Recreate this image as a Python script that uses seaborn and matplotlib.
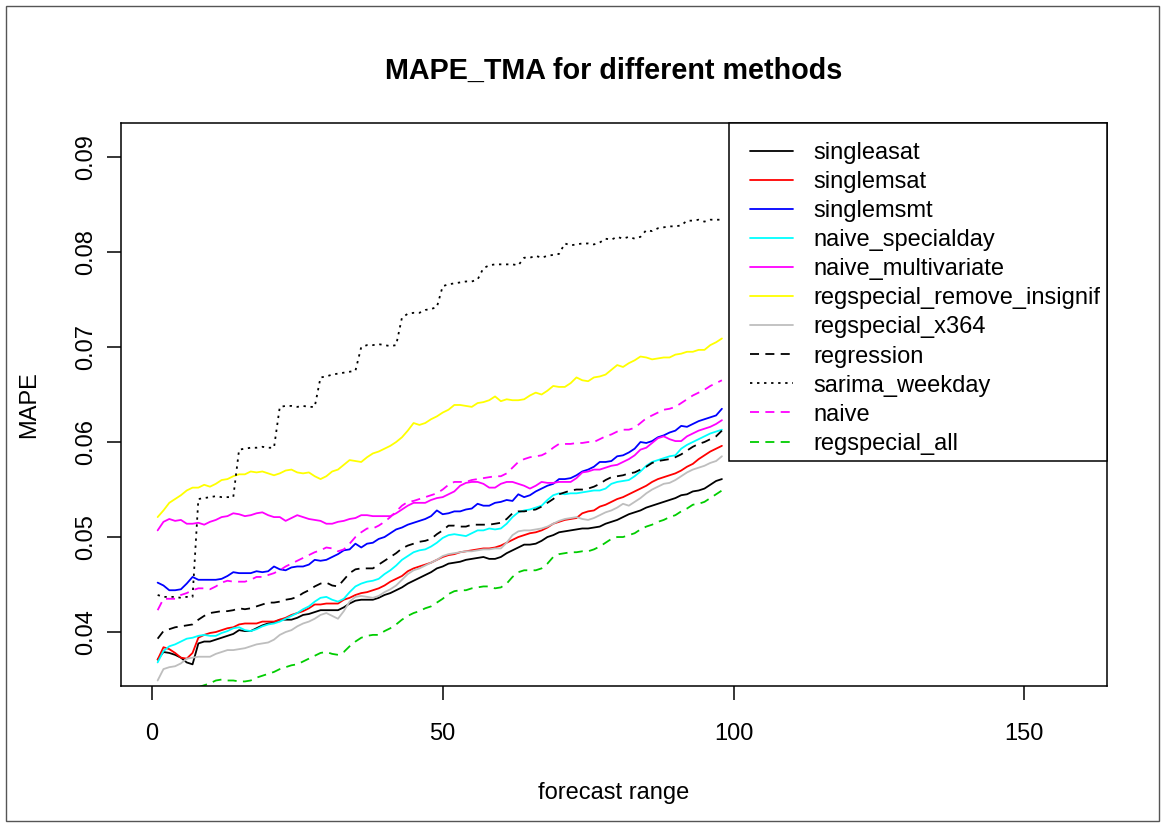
import numpy as np
import pandas as pd
import matplotlib
matplotlib.use("Agg")
import matplotlib.pyplot as plt
from matplotlib.patches import Rectangle
import seaborn as sns

sns.set_style("white")
plt.rcParams["font.family"] = ["Liberation Sans", "DejaVu Sans"]
plt.rcParams["font.size"] = 17
for key in ["text.color", "axes.labelcolor", "xtick.color", "ytick.color"]:
    plt.rcParams[key] = "black"

# forecast horizon (days ahead)
forecast_range = list(range(1, 99))

singleasat = [
    0.0371, 0.0379, 0.0378, 0.0376, 0.0373, 0.0368, 0.0366, 0.0388, 0.0390, 0.0390,
    0.0392, 0.0394, 0.0396, 0.0398, 0.0402, 0.0401, 0.0401, 0.0404, 0.0407, 0.0409,
    0.0410, 0.0413, 0.0413, 0.0413, 0.0415, 0.0418, 0.0419,
    0.0421, 0.0423, 0.0423, 0.0423, 0.0423, 0.0426, 0.0430, 0.0433, 0.0434, 0.0434,
    0.0434, 0.0436, 0.0439, 0.0441, 0.0444, 0.0447, 0.0451, 0.0454, 0.0457, 0.0460,
    0.0463, 0.0467, 0.0469, 0.0472, 0.0473, 0.0474, 0.0476,
    0.0477, 0.0478, 0.0479, 0.0477, 0.0477, 0.0479, 0.0483, 0.0486, 0.0489, 0.0492,
    0.0492, 0.0493, 0.0496, 0.0500, 0.0502, 0.0505, 0.0506, 0.0507, 0.0508, 0.0509,
    0.0509, 0.0510, 0.0511, 0.0514,
    0.0516, 0.0518, 0.0521, 0.0524, 0.0526, 0.0528, 0.0531, 0.0533, 0.0535, 0.0537,
    0.0539, 0.0541, 0.0544, 0.0545, 0.0548, 0.0549, 0.0551, 0.0555, 0.0559, 0.0561,
]

singlemsat = [
    0.0371, 0.0384, 0.0382, 0.0378, 0.0373, 0.0372, 0.0378, 0.0394, 0.0397, 0.0399,
    0.0400, 0.0402, 0.0404, 0.0405, 0.0408, 0.0409, 0.0409, 0.0409, 0.0411, 0.0411,
    0.0411, 0.0413, 0.0415, 0.0418, 0.0420, 0.0422, 0.0425,
    0.0429, 0.0429, 0.0430, 0.0430, 0.0430, 0.0434, 0.0436, 0.0439, 0.0441, 0.0442,
    0.0444, 0.0446, 0.0449, 0.0453, 0.0456, 0.0459, 0.0464, 0.0467, 0.0469, 0.0471,
    0.0473, 0.0476, 0.0479, 0.0481, 0.0482, 0.0484, 0.0485,
    0.0486, 0.0487, 0.0488, 0.0488, 0.0489, 0.0491, 0.0494, 0.0497, 0.0500, 0.0502,
    0.0504, 0.0505, 0.0507, 0.0510, 0.0514, 0.0516, 0.0518, 0.0519, 0.0520, 0.0525,
    0.0527, 0.0528, 0.0532, 0.0534,
    0.0537, 0.0540, 0.0542, 0.0545, 0.0548, 0.0551, 0.0554, 0.0558, 0.0561, 0.0563,
    0.0565, 0.0567, 0.0570, 0.0574, 0.0577, 0.0582, 0.0586, 0.0590, 0.0593, 0.0596,
]

singlemsmt = [
    0.0452, 0.0449, 0.0444, 0.0444, 0.0445, 0.0451, 0.0458, 0.0455, 0.0455, 0.0455,
    0.0455, 0.0456, 0.0459, 0.0463, 0.0462, 0.0462, 0.0462, 0.0464, 0.0463, 0.0464,
    0.0469, 0.0466, 0.0465, 0.0468, 0.0469, 0.0469, 0.0471,
    0.0476, 0.0475, 0.0476, 0.0479, 0.0482, 0.0486, 0.0487, 0.0493, 0.0489, 0.0493,
    0.0494, 0.0498, 0.0500, 0.0504, 0.0508, 0.0510, 0.0513, 0.0515, 0.0517, 0.0519,
    0.0522, 0.0528, 0.0524, 0.0525, 0.0527, 0.0527, 0.0529,
    0.0530, 0.0535, 0.0533, 0.0533, 0.0536, 0.0537, 0.0539, 0.0538, 0.0545, 0.0542,
    0.0544, 0.0548, 0.0551, 0.0554, 0.0556, 0.0561, 0.0561, 0.0562, 0.0565, 0.0569,
    0.0571, 0.0574, 0.0579, 0.0579,
    0.0580, 0.0585, 0.0586, 0.0589, 0.0593, 0.0600, 0.0599, 0.0601, 0.0605, 0.0607,
    0.0610, 0.0612, 0.0617, 0.0616, 0.0619, 0.0622, 0.0624, 0.0626, 0.0628, 0.0635,
]

naive_specialday = [
    0.0368, 0.0380, 0.0385, 0.0387, 0.0390, 0.0393, 0.0394, 0.0396, 0.0397, 0.0396,
    0.0396, 0.0399, 0.0401, 0.0404, 0.0405, 0.0402, 0.0401, 0.0403, 0.0406, 0.0408,
    0.0409, 0.0411, 0.0414, 0.0417, 0.0420, 0.0424, 0.0427,
    0.0432, 0.0436, 0.0437, 0.0434, 0.0432, 0.0435, 0.0442, 0.0448, 0.0451, 0.0453,
    0.0454, 0.0456, 0.0461, 0.0465, 0.0470, 0.0476, 0.0480, 0.0484, 0.0486, 0.0487,
    0.0490, 0.0494, 0.0499, 0.0502, 0.0503, 0.0502, 0.0501,
    0.0504, 0.0507, 0.0507, 0.0509, 0.0508, 0.0509, 0.0514, 0.0521, 0.0526, 0.0528,
    0.0529, 0.0531, 0.0533, 0.0539, 0.0544, 0.0546, 0.0545, 0.0546, 0.0546, 0.0547,
    0.0548, 0.0549, 0.0549, 0.0551,
    0.0556, 0.0558, 0.0559, 0.0560, 0.0564, 0.0569, 0.0575, 0.0579, 0.0581, 0.0583,
    0.0585, 0.0586, 0.0593, 0.0597, 0.0600, 0.0603, 0.0606, 0.0609, 0.0611, 0.0613,
]

naive_multivariate = [
    0.0507, 0.0516, 0.0519, 0.0517, 0.0518, 0.0514, 0.0514, 0.0515, 0.0513, 0.0516,
    0.0518, 0.0521, 0.0522, 0.0525, 0.0524, 0.0522, 0.0523, 0.0525, 0.0526, 0.0523,
    0.0521, 0.0521, 0.0517, 0.0520, 0.0523, 0.0521, 0.0519,
    0.0518, 0.0517, 0.0514, 0.0514, 0.0516, 0.0517, 0.0519, 0.0520, 0.0523, 0.0523,
    0.0522, 0.0522, 0.0522, 0.0522, 0.0525, 0.0529, 0.0533, 0.0536, 0.0536, 0.0536,
    0.0539, 0.0541, 0.0542, 0.0545, 0.0548, 0.0554, 0.0557,
    0.0558, 0.0558, 0.0556, 0.0552, 0.0552, 0.0556, 0.0558, 0.0558, 0.0556, 0.0554,
    0.0551, 0.0554, 0.0558, 0.0557, 0.0557, 0.0558, 0.0558, 0.0558, 0.0562, 0.0568,
    0.0569, 0.0571, 0.0571, 0.0573,
    0.0575, 0.0576, 0.0579, 0.0582, 0.0586, 0.0592, 0.0594, 0.0599, 0.0604, 0.0606,
    0.0603, 0.0601, 0.0601, 0.0606, 0.0609, 0.0612, 0.0614, 0.0616, 0.0619, 0.0623,
]

regspecial_remove_insignif = [
    0.0521, 0.0528, 0.0536, 0.0540, 0.0544, 0.0549, 0.0552, 0.0552, 0.0555, 0.0553,
    0.0556, 0.0560, 0.0561, 0.0564, 0.0566, 0.0566, 0.0569, 0.0568, 0.0569, 0.0567,
    0.0565, 0.0567, 0.0570, 0.0571, 0.0568, 0.0567, 0.0568,
    0.0564, 0.0561, 0.0564, 0.0569, 0.0571, 0.0576, 0.0581, 0.0580, 0.0579, 0.0584,
    0.0588, 0.0590, 0.0593, 0.0596, 0.0600, 0.0605, 0.0612, 0.0620, 0.0618, 0.0620,
    0.0624, 0.0627, 0.0631, 0.0634, 0.0639, 0.0639, 0.0638,
    0.0637, 0.0641, 0.0642, 0.0644, 0.0648, 0.0643, 0.0645, 0.0644, 0.0644, 0.0645,
    0.0649, 0.0652, 0.0650, 0.0654, 0.0659, 0.0658, 0.0658, 0.0662, 0.0668, 0.0665,
    0.0664, 0.0668, 0.0669, 0.0671,
    0.0676, 0.0681, 0.0679, 0.0683, 0.0686, 0.0690, 0.0689, 0.0687, 0.0688, 0.0689,
    0.0689, 0.0692, 0.0693, 0.0695, 0.0695, 0.0697, 0.0697, 0.0702, 0.0705, 0.0709,
]

regspecial_x364 = [
    0.0349, 0.0361, 0.0363, 0.0364, 0.0367, 0.0372, 0.0373, 0.0374, 0.0374, 0.0374,
    0.0377, 0.0379, 0.0381, 0.0381, 0.0382, 0.0383, 0.0385, 0.0387, 0.0388, 0.0389,
    0.0392, 0.0397, 0.0400, 0.0402, 0.0406, 0.0409, 0.0411,
    0.0414, 0.0418, 0.0420, 0.0417, 0.0414, 0.0422, 0.0432, 0.0437, 0.0438, 0.0437,
    0.0436, 0.0438, 0.0442, 0.0445, 0.0449, 0.0455, 0.0461, 0.0465, 0.0467, 0.0470,
    0.0473, 0.0476, 0.0480, 0.0482, 0.0483, 0.0484, 0.0485,
    0.0485, 0.0486, 0.0487, 0.0487, 0.0488, 0.0488, 0.0494, 0.0502, 0.0506, 0.0507,
    0.0507, 0.0508, 0.0509, 0.0511, 0.0514, 0.0517, 0.0519, 0.0520, 0.0521, 0.0519,
    0.0518, 0.0520, 0.0523, 0.0526,
    0.0528, 0.0531, 0.0535, 0.0533, 0.0537, 0.0541, 0.0546, 0.0550, 0.0553, 0.0556,
    0.0557, 0.0560, 0.0564, 0.0568, 0.0571, 0.0573, 0.0575, 0.0578, 0.0580, 0.0585,
]

regression = [
    0.0393, 0.0401, 0.0403, 0.0405, 0.0406, 0.0407, 0.0408, 0.0413, 0.0417, 0.0420,
    0.0421, 0.0422, 0.0422, 0.0423, 0.0425, 0.0424, 0.0425, 0.0427, 0.0429, 0.0431,
    0.0431, 0.0432, 0.0434, 0.0435, 0.0437, 0.0441, 0.0444,
    0.0448, 0.0451, 0.0452, 0.0449, 0.0448, 0.0455, 0.0462, 0.0466, 0.0467, 0.0467,
    0.0467, 0.0471, 0.0475, 0.0479, 0.0483, 0.0488, 0.0491, 0.0493, 0.0495, 0.0496,
    0.0498, 0.0503, 0.0507, 0.0512, 0.0512, 0.0511, 0.0511,
    0.0513, 0.0513, 0.0513, 0.0513, 0.0514, 0.0515, 0.0519, 0.0525, 0.0527, 0.0527,
    0.0528, 0.0529, 0.0532, 0.0536, 0.0540, 0.0545, 0.0547, 0.0549, 0.0550, 0.0550,
    0.0551, 0.0553, 0.0556, 0.0560,
    0.0563, 0.0564, 0.0565, 0.0567, 0.0568, 0.0571, 0.0574, 0.0578, 0.0580, 0.0581,
    0.0582, 0.0584, 0.0587, 0.0591, 0.0595, 0.0598, 0.0600, 0.0603, 0.0606, 0.0612,
]

sarima_weekday = [
    0.0439, 0.0437, 0.0437, 0.0437, 0.0436, 0.0437, 0.0437,
    0.0540, 0.0541, 0.0542, 0.0543, 0.0542, 0.0542, 0.0542,
    0.0592, 0.0593, 0.0594, 0.0594, 0.0595, 0.0594, 0.0594,
    0.0637, 0.0638, 0.0638, 0.0637, 0.0638, 0.0637, 0.0637,
    0.0668, 0.0669, 0.0671, 0.0672, 0.0673, 0.0674, 0.0675,
    0.0700, 0.0702, 0.0702, 0.0703, 0.0702, 0.0701, 0.0702,
    0.0731, 0.0735, 0.0736, 0.0736, 0.0739, 0.0740, 0.0742,
    0.0764, 0.0766, 0.0767, 0.0768, 0.0769, 0.0769, 0.0771,
    0.0783, 0.0786, 0.0787, 0.0787, 0.0787, 0.0787, 0.0786,
    0.0794, 0.0794, 0.0796, 0.0794, 0.0796, 0.0797, 0.0798,
    0.0809, 0.0807, 0.0808, 0.0809, 0.0809, 0.0808, 0.0810,
    0.0814, 0.0813, 0.0816, 0.0814, 0.0816, 0.0814, 0.0816,
    0.0823, 0.0822, 0.0825, 0.0826, 0.0827, 0.0827, 0.0828,
    0.0833, 0.0833, 0.0834, 0.0832, 0.0834, 0.0834, 0.0834,
]

naive = [
    0.0423, 0.0435, 0.0435, 0.0435, 0.0439, 0.0441, 0.0444, 0.0446, 0.0446, 0.0445,
    0.0448, 0.0452, 0.0454, 0.0453, 0.0453, 0.0453, 0.0455, 0.0458, 0.0458, 0.0460,
    0.0462, 0.0465, 0.0469, 0.0472, 0.0475, 0.0478, 0.0481,
    0.0484, 0.0486, 0.0489, 0.0488, 0.0485, 0.0487, 0.0493, 0.0500, 0.0505, 0.0509,
    0.0509, 0.0512, 0.0516, 0.0521, 0.0527, 0.0533, 0.0537, 0.0538, 0.0540, 0.0542,
    0.0544, 0.0546, 0.0550, 0.0555, 0.0558, 0.0558, 0.0558,
    0.0560, 0.0561, 0.0562, 0.0563, 0.0564, 0.0564, 0.0567, 0.0573, 0.0579, 0.0582,
    0.0584, 0.0585, 0.0586, 0.0589, 0.0594, 0.0598, 0.0598, 0.0598, 0.0599, 0.0599,
    0.0600, 0.0600, 0.0603, 0.0606,
    0.0608, 0.0611, 0.0613, 0.0613, 0.0615, 0.0620, 0.0625, 0.0628, 0.0631, 0.0634,
    0.0635, 0.0637, 0.0641, 0.0645, 0.0649, 0.0652, 0.0655, 0.0659, 0.0662, 0.0665,
]

# the first week of regspecial_all lies below the plotted range
regspecial_all = [np.nan] * 7 + [
    0.0342, 0.0344, 0.0346,
    0.0349, 0.0350, 0.0349, 0.0349, 0.0348, 0.0348, 0.0349, 0.0352, 0.0354, 0.0356,
    0.0358, 0.0361, 0.0363, 0.0365, 0.0366, 0.0369, 0.0372,
    0.0375, 0.0378, 0.0379, 0.0377, 0.0376, 0.0379, 0.0385, 0.0390, 0.0394, 0.0396,
    0.0397, 0.0397, 0.0401, 0.0404, 0.0408, 0.0413, 0.0417, 0.0420, 0.0422, 0.0425,
    0.0427, 0.0431, 0.0435, 0.0440, 0.0443, 0.0444, 0.0444,
    0.0446, 0.0447, 0.0448, 0.0448, 0.0446, 0.0447, 0.0451, 0.0458, 0.0463, 0.0465,
    0.0465, 0.0465, 0.0467, 0.0472, 0.0479, 0.0482, 0.0483, 0.0484, 0.0484, 0.0485,
    0.0485, 0.0487, 0.0490, 0.0494,
    0.0498, 0.0500, 0.0500, 0.0502, 0.0504, 0.0508, 0.0511, 0.0513, 0.0516, 0.0518,
    0.0521, 0.0523, 0.0527, 0.0530, 0.0534, 0.0535, 0.0537, 0.0541, 0.0545, 0.0549,
]

methods = [
    "singleasat", "singlemsat", "singlemsmt", "naive_specialday",
    "naive_multivariate", "regspecial_remove_insignif", "regspecial_x364",
    "regression", "sarima_weekday", "naive", "regspecial_all",
]
series = [
    singleasat, singlemsat, singlemsmt, naive_specialday, naive_multivariate,
    regspecial_remove_insignif, regspecial_x364, regression, sarima_weekday,
    naive, regspecial_all,
]
colors = ["black", "#FF0000", "#0000FF", "#00FFFF", "#FF00FF", "#FFFF00",
          "#BEBEBE", "black", "black", "#FF00FF", "#00CD00"]
dash_styles = ["", "", "", "", "", "", "", (5, 3.5), (1.3, 2.6), (5, 3.5), (5, 3.5)]

y_ticks = [0.04, 0.05, 0.06, 0.07, 0.08, 0.09]
x_ticks = [0, 50, 100, 150]

df = pd.DataFrame({
    "forecast range": np.tile(forecast_range, len(methods)),
    "MAPE": np.concatenate([np.asarray(s, dtype=float) for s in series]),
    "method": np.repeat(methods, len(forecast_range)),
})

W, H = 1165, 827
fig = plt.figure(figsize=(W / 100, H / 100), dpi=100)
ax = fig.add_axes([121 / W, 1 - 686 / H, 986 / W, 563 / H])

sns.lineplot(
    data=df, x="forecast range", y="MAPE", hue="method", style="method",
    hue_order=methods, style_order=methods,
    palette=dict(zip(methods, colors)), dashes=dict(zip(methods, dash_styles)),
    linewidth=1.3, ax=ax, legend=False, estimator=None, sort=False,
)

ax.set_xlim(-5.3, 164.2)
ax.set_ylim(0.03432, 0.09358)
ax.set_xticks(x_ticks)
ax.set_xticklabels([str(t) for t in x_ticks])
ax.set_yticks(y_ticks)
ax.set_yticklabels([f"{t:.2f}" for t in y_ticks], rotation=90, va="center")
ax.tick_params(axis="both", which="major", direction="out", length=10,
               width=1.1, color="black", labelcolor="black", labelsize=17,
               bottom=True, left=True)
ax.tick_params(axis="x", pad=17)
ax.tick_params(axis="y", pad=7)
for sp in ax.spines.values():
    sp.set_visible(True)
    sp.set_color("black")
    sp.set_linewidth(1.1)
ax.grid(False)

ax.set_title("MAPE_TMA for different methods", fontsize=20.7,
             fontweight="bold", pad=32, color="black")
ax.set_xlabel("forecast range", fontsize=17)
ax.xaxis.label.set_va("center")
ax.xaxis.set_label_coords(0.5, (686 - 793) / 563)
ax.set_ylabel("MAPE", fontsize=17)
ax.yaxis.label.set_va("center")
ax.yaxis.set_label_coords((29 - 121) / 986, 0.5)

# legend box in the upper right corner of the plotting region
ax.add_patch(Rectangle(((729 - 121) / 986, (686 - 461) / 563),
                       (1107 - 729) / 986, (461 - 123) / 563,
                       transform=ax.transAxes, facecolor="white",
                       edgecolor="black", linewidth=1.1, zorder=5,
                       clip_on=False))
handles = [line for line in ax.get_lines()][:len(methods)]
leg = ax.legend(handles, methods, loc="upper left",
                bbox_to_anchor=((750 - 121) / 986, (686 - 142) / 563),
                frameon=False, borderpad=0, borderaxespad=0,
                handlelength=1.8, handletextpad=0.9, labelspacing=0.30,
                fontsize=17)
leg.set_zorder(6)

# thin frame around the whole figure
fig.patches.append(Rectangle((6 / W, 6 / H), (W - 12) / W, (H - 12) / H,
                             transform=fig.transFigure, fill=False,
                             edgecolor="#555555", linewidth=1.0))

fig.savefig("out.png", dpi=100)
